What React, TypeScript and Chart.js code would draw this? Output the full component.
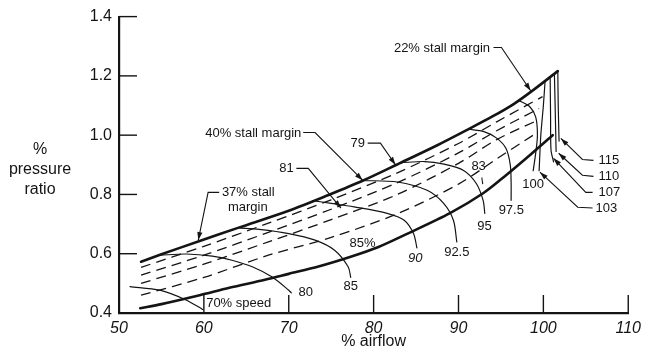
import React, { useEffect, useRef } from "react";
import { Chart, registerables } from "chart.js";

Chart.register(...registerables);

const FONT = '"Liberation Sans", Arial, Helvetica, sans-serif';
const INK = "#141414";

// ---------- axes ----------
const xTicks = [50, 60, 70, 80, 90, 100, 110];
const yTicks = [0.4, 0.6, 0.8, 1.0, 1.2, 1.4];

// ---------- boundary lines (solid, thick) ----------
const stallLine = [
  [52.6, 0.573], [55, 0.598], [59.5, 0.643], [64.1, 0.688], [70, 0.745],
  [74.6, 0.797], [78.7, 0.846], [83.2, 0.907], [87.5, 0.966], [91.3, 1.022],
  [94, 1.063], [96.5, 1.105], [98.8, 1.152], [101.7, 1.216],
];
const operatingLine = [
  [52.5, 0.416], [55, 0.43], [59.5, 0.46], [63, 0.485], [67.2, 0.512],
  [70, 0.532], [73.5, 0.557], [77.3, 0.59], [80.5, 0.622], [84, 0.668],
  [89, 0.737], [92.9, 0.804], [95.6, 0.865], [98.5, 0.935], [101.1, 1.0],
];

// ---------- speed lines (solid, thin) ----------
const speed70 = [[51.3, 0.489], [54.8, 0.477], [57.9, 0.444], [59.85, 0.412]];
const speed80 = [[54.8, 0.595], [57.9, 0.599], [61, 0.592], [63.3, 0.578], [65.7, 0.556], [68, 0.522], [70, 0.477], [70.3, 0.468]];
const speed85 = [[64.1, 0.687], [66.5, 0.682], [70, 0.668], [73.1, 0.646], [75.4, 0.612], [77, 0.556], [77.3, 0.52]];
const speed90 = [[72.8, 0.779], [75, 0.77], [77.7, 0.758], [81.6, 0.736], [83.6, 0.713], [84.7, 0.668], [85.1, 0.62]];
const speed925 = [[78.7, 0.847], [82.8, 0.842], [86.3, 0.814], [88.25, 0.77], [89.4, 0.713], [89.8, 0.64]];
const speed95 = [[83.2, 0.907], [86, 0.911], [88.3, 0.902], [90.6, 0.881], [92.1, 0.837], [92.9, 0.78], [93.1, 0.736]];
const speed975 = [[91.2, 1.02], [93, 1.012], [94.5, 0.99], [95.6, 0.955], [96.1, 0.9], [96.2, 0.84], [96.2, 0.78]];
const speed100 = [[97.1, 1.117], [98.4, 1.096], [99.1, 1.061], [99.3, 1.0], [99.1, 0.94], [98.8, 0.88]];
const speed103 = [[100.2, 1.182], [100.0, 1.1], [99.7, 1.0], [99.5, 0.88]];
const speed107 = [[100.8, 1.197], [100.85, 1.06], [100.9, 0.95], [101.2, 0.91]];
const speed110 = [[101.3, 1.207], [101.4, 1.08], [101.5, 0.945]];
const speed115 = [[101.7, 1.216], [101.75, 1.1], [101.85, 0.98]];

// ---------- dashed contours ----------
const dash1 = [[52.6, 0.554], [60, 0.625], [67.6, 0.703], [75, 0.782], [82.8, 0.873], [90, 0.972], [94.5, 1.045], [99.9, 1.13]];
const dash2 = [[52.6, 0.528], [60, 0.595], [67.6, 0.672], [75, 0.75], [82.8, 0.84], [90, 0.94], [94.5, 1.015], [99.5, 1.09]];
const dash3 = [[52.6, 0.5], [60, 0.565], [67.6, 0.64], [75, 0.715], [82.8, 0.8], [90, 0.905], [94.5, 0.985], [99.3, 1.05]];
const dash4 = [[52.6, 0.46], [60, 0.52], [67.6, 0.595], [75, 0.655], [82.8, 0.735], [90, 0.835], [94.5, 0.92], [98.8, 1.0]];

// ---------- annotation labels ----------
const labelText = [
  "22% stall margin", "40% stall margin", "79", "81", "37% stall", "margin",
  "83", "85%", "80", "85", "90", "92.5", "95", "97.5", "100",
  "115", "110", "107", "103", "70% speed",
];
const labelX = [
  88.05, 65.82, 78.13, 69.73, 65.23, 65.17,
  92.37, 78.7, 72.0, 77.3, 84.9, 89.8, 93.07, 96.22, 98.8,
  106.5, 106.5, 106.5, 106.15, 64.1,
];
const labelY = [
  1.292, 1.006, 0.972, 0.888, 0.807, 0.757,
  0.895, 0.636, 0.468, 0.488, 0.585, 0.605, 0.693, 0.747, 0.834,
  0.915, 0.861, 0.807, 0.754, 0.434,
];
const labelAlign = [
  "center", "center", "center", "center", "center", "center",
  "center", "center", "center", "center", "center", "center", "center", "center", "center",
  "left", "left", "left", "left", "center",
];
const labelItalic = [
  false, false, false, false, false, false,
  false, false, false, false, true, false, false, false, false,
  false, false, false, false, false,
];

// ---------- leader lines (last point carries arrowhead when flagged) ----------
const leaderPaths = [
  [[94.12, 1.296], [95.06, 1.296], [98.5, 1.15]],
  [[71.7, 1.009], [73.1, 1.009], [78.7, 0.848]],
  [[79.3, 0.973], [80.8, 0.973], [82.57, 0.9]],
  [[70.9, 0.888], [72.3, 0.888], [76.15, 0.754]],
  [[61.8, 0.807], [60.5, 0.807], [59.34, 0.646]],
  [[105.9, 0.915], [104.6, 0.918], [102.06, 0.989]],
  [[105.9, 0.861], [104.6, 0.865], [101.8, 0.939]],
  [[105.8, 0.807], [105.0, 0.807], [101.2, 0.922]],
  [[105.8, 0.754], [104.05, 0.757], [99.6, 0.875]],
  [[92.75, 0.857], [92.85, 0.835]],
];
const leaderArrow = [true, true, true, true, true, true, true, true, true, false];

const toPts = (arr: number[][]) => arr.map(([x, y]) => ({ x, y }));

export default function App() {
  const ref = useRef<HTMLCanvasElement>(null);

  useEffect(() => {
    const canvas = ref.current;
    if (!canvas) return;

    const solid = (d: number[][], w: number) => ({
      data: toPts(d),
      borderColor: INK,
      borderWidth: w,
      pointRadius: 0,
      tension: 0.3,
      fill: false,
      borderCapStyle: "round",
      borderJoinStyle: "round",
    });
    const dashed = (d: number[][]) => ({
      data: toPts(d),
      borderColor: INK,
      borderWidth: 1.3,
      borderDash: [10, 6],
      pointRadius: 0,
      tension: 0.3,
      fill: false,
    });

    const datasets: any[] = [
      solid(stallLine, 2.6),
      solid(operatingLine, 2.6),
      ...[speed70, speed80, speed85, speed90, speed925, speed95, speed975, speed100, speed103, speed107, speed110, speed115].map((s) => solid(s, 1.2)),
      ...[dash1, dash2, dash3, dash4].map((s) => dashed(s)),
    ];

    const annotPlugin = {
      id: "annot",
      afterDatasetsDraw(chart: any) {
        const { ctx, chartArea } = chart;
        const xs = chart.scales.x;
        const ys = chart.scales.y;
        const px = (v: number) => xs.getPixelForValue(v);
        const py = (v: number) => ys.getPixelForValue(v);
        ctx.save();
        ctx.strokeStyle = INK;
        ctx.fillStyle = INK;

        // inward tick marks
        ctx.lineWidth = 1.4;
        xTicks.forEach((v) => {
          const X = px(v);
          ctx.beginPath();
          ctx.moveTo(X, chartArea.bottom);
          ctx.lineTo(X, chartArea.bottom - 18);
          ctx.stroke();
        });
        yTicks.forEach((v) => {
          const Y = py(v);
          ctx.beginPath();
          ctx.moveTo(chartArea.left, Y);
          ctx.lineTo(chartArea.left + 18, Y);
          ctx.stroke();
        });

        // leader lines with arrowheads
        ctx.lineWidth = 1.1;
        leaderPaths.forEach((path, i) => {
          ctx.beginPath();
          path.forEach(([x, y], j) => {
            if (j === 0) ctx.moveTo(px(x), py(y));
            else ctx.lineTo(px(x), py(y));
          });
          ctx.stroke();
          if (leaderArrow[i]) {
            const [x1, y1] = path[path.length - 2];
            const [x2, y2] = path[path.length - 1];
            const ax = px(x2), ay = py(y2);
            const ang = Math.atan2(ay - py(y1), ax - px(x1));
            const L = 8, W = 2.6;
            ctx.beginPath();
            ctx.moveTo(ax, ay);
            ctx.lineTo(ax - L * Math.cos(ang) + W * Math.sin(ang), ay - L * Math.sin(ang) - W * Math.cos(ang));
            ctx.lineTo(ax - L * Math.cos(ang) - W * Math.sin(ang), ay - L * Math.sin(ang) + W * Math.cos(ang));
            ctx.closePath();
            ctx.fill();
          }
        });

        // labels
        ctx.textBaseline = "middle";
        labelText.forEach((t, i) => {
          ctx.font = `${labelItalic[i] ? "italic " : ""}13px ${FONT}`;
          ctx.textAlign = labelAlign[i] as CanvasTextAlign;
          ctx.fillText(t, px(labelX[i]), py(labelY[i]));
        });

        // y-axis title (horizontal, three lines)
        ctx.font = `16px ${FONT}`;
        ctx.textAlign = "center";
        const cx = chartArea.left - 79;
        const cy = (chartArea.top + chartArea.bottom) / 2;
        ctx.fillText("%", cx, cy - 15);
        ctx.fillText("pressure", cx, cy + 5);
        ctx.fillText("ratio", cx, cy + 25);
        ctx.restore();
      },
    };

    const chart = new Chart(canvas, {
      type: "line",
      data: { datasets },
      options: {
        responsive: false,
        animation: false,
        events: [],
        layout: { padding: { left: 0, right: 14, top: 16, bottom: 0 } },
        plugins: { legend: { display: false }, tooltip: { enabled: false } },
        scales: {
          x: {
            type: "linear",
            min: 50,
            max: 110,
            afterBuildTicks: (s: any) => {
              s.ticks = xTicks.map((v) => ({ value: v }));
            },
            afterFit: (s: any) => {
              s.height = 43;
            },
            ticks: {
              font: { family: FONT, size: 16, style: "italic" },
              color: INK,
              padding: 6,
              maxRotation: 0,
              autoSkip: false,
            },
            grid: { display: false, drawTicks: false },
            border: { display: true, color: INK, width: 2.2 },
            title: {
              display: true,
              text: "% airflow",
              font: { family: FONT, size: 16 },
              color: INK,
              padding: { top: 0, bottom: 5 },
            },
          },
          y: {
            type: "linear",
            min: 0.4,
            max: 1.4,
            afterBuildTicks: (s: any) => {
              s.ticks = yTicks.map((v) => ({ value: v }));
            },
            afterFit: (s: any) => {
              s.width = 119;
            },
            ticks: {
              font: { family: FONT, size: 16 },
              color: INK,
              padding: 7,
              autoSkip: false,
              callback: (v: any) => Number(v).toFixed(1),
            },
            grid: { display: false, drawTicks: false },
            border: { display: true, color: INK, width: 2.2 },
          },
        },
      } as any,
      plugins: [annotPlugin],
    });

    return () => chart.destroy();
  }, []);

  return (
    <div style={{ position: "absolute", left: 0, top: 0, width: 647, height: 356, background: "#fff" }}>
      <canvas ref={ref} width={647} height={356} style={{ display: "block" }} />
    </div>
  );
}
